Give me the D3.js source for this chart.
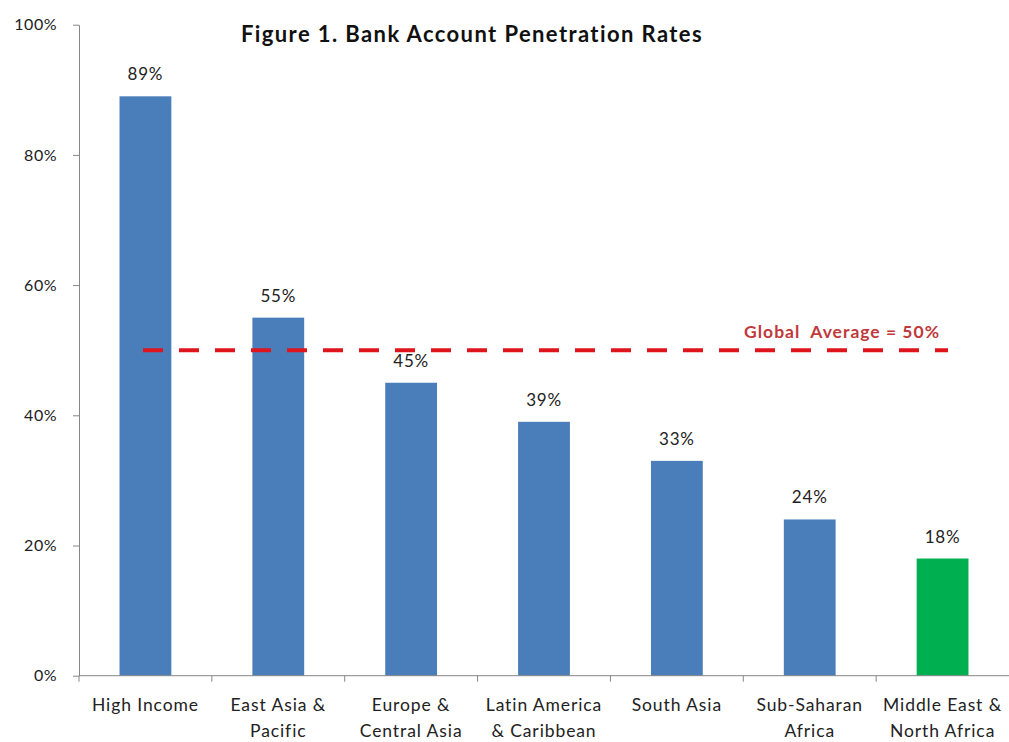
<!DOCTYPE html>
<html>
<head>
<meta charset="utf-8">
<script src="https://cdn.jsdelivr.net/npm/d3@7"></script>
<style>
  body { margin: 0; background: #fff; }
  svg { display: block; font-family: Lato, "Open Sans", sans-serif; }
</style>
</head>
<body>
<svg id="chart" width="1009" height="742"></svg>
<script>
// Data
const categories = [
  ['High Income'],
  ['East Asia &', 'Pacific'],
  ['Europe &', 'Central Asia'],
  ['Latin America', '& Caribbean'],
  ['South Asia'],
  ['Sub-Saharan', 'Africa'],
  ['Middle East &', 'North Africa']
];
const values = [0.89, 0.55, 0.45, 0.39, 0.33, 0.24, 0.18];
const highlighted = [false, false, false, false, false, false, true];
const yTicks = [0, 0.2, 0.4, 0.6, 0.8, 1.0];
const globalAverage = 0.50;
const avgLabel = 'Global  Average = 50%';
const title = 'Figure 1. Bank Account Penetration Rates';

const svg = d3.select('#chart');
const plotLeft = 79, plotRight = 1009, plotTop = 24.7, plotBottom = 675.7;

const keys = categories.map((c, i) => i);
const x = d3.scaleBand().domain(keys).range([plotLeft, plotRight])
  .paddingInner(0.61).paddingOuter(0.305);
const xEdge = d3.scaleBand().domain(keys).range([plotLeft, plotRight]); // for boundary ticks
const y = d3.scaleLinear().domain([0, 1]).range([plotBottom, plotTop]);

// Bars
svg.append('g').selectAll('rect').data(values).join('rect')
  .attr('x', (d, i) => x(i))
  .attr('y', d => y(d))
  .attr('width', x.bandwidth())
  .attr('height', d => y(0) - y(d))
  .attr('fill', (d, i) => highlighted[i] ? '#00b050' : '#4a7ebb');

// Value labels
svg.append('g').selectAll('text').data(values).join('text')
  .attr('x', (d, i) => x(i) + x.bandwidth() / 2)
  .attr('y', d => y(d) - 16)
  .attr('text-anchor', 'middle')
  .attr('font-size', 17).attr('letter-spacing', 0.8)
  .attr('fill', '#222')
  .text(d => d3.format('.0%')(d));

// Y axis
const yAxis = d3.axisLeft(y).tickValues(yTicks).tickFormat(d3.format('.0%'))
  .tickSize(6).tickSizeOuter(0).tickPadding(16);
svg.append('g').attr('transform', `translate(${plotLeft},0)`).call(yAxis)
  .call(g => g.select('.domain').attr('stroke', '#868686'))
  .call(g => g.selectAll('.tick line').attr('stroke', '#868686'))
  .call(g => g.selectAll('.tick text').attr('font-size', 16).attr('fill', '#222')
    .attr('letter-spacing', 0.5).attr('font-family', 'Lato, sans-serif'));

// X axis line with boundary ticks
const xg = svg.append('g');
xg.append('line').attr('x1', plotLeft).attr('x2', plotRight).attr('y1', plotBottom).attr('y2', plotBottom)
  .attr('stroke', '#868686');
xg.selectAll('line.tk').data(keys).join('line').attr('class', 'tk')
  .attr('x1', i => xEdge(i)).attr('x2', i => xEdge(i))
  .attr('y1', plotBottom).attr('y2', plotBottom + 6)
  .attr('stroke', '#868686');

// Category labels
xg.selectAll('text').data(categories).join('text')
  .attr('x', (d, i) => x(i) + x.bandwidth() / 2)
  .attr('y', plotBottom + 35)
  .attr('text-anchor', 'middle')
  .attr('font-size', 17.5).attr('letter-spacing', 0.9)
  .attr('fill', '#222')
  .each(function (lines) {
    d3.select(this).selectAll('tspan').data(lines).join('tspan')
      .attr('x', d3.select(this).attr('x'))
      .attr('dy', (l, j) => j === 0 ? 0 : 26)
      .text(l => l);
  });

// Global average line
svg.append('line')
  .attr('x1', 143).attr('x2', 948)
  .attr('y1', y(globalAverage)).attr('y2', y(globalAverage))
  .attr('stroke', '#e0141c').attr('stroke-width', 4)
  .attr('stroke-dasharray', '20,16');
svg.append('text')
  .attr('x', 940).attr('y', y(globalAverage) - 12)
  .attr('text-anchor', 'end')
  .attr('font-size', 17.5).attr('font-weight', 'bold').attr('letter-spacing', 1)
  .attr('fill', '#c0393b')
  .attr('xml:space', 'preserve')
  .text(avgLabel);

// Title
svg.append('text')
  .attr('x', 472).attr('y', 42)
  .attr('text-anchor', 'middle')
  .attr('font-size', 22).attr('font-weight', 'bold').attr('letter-spacing', 1.4)
  .attr('fill', '#111')
  .text(title);
</script>
</body>
</html>
